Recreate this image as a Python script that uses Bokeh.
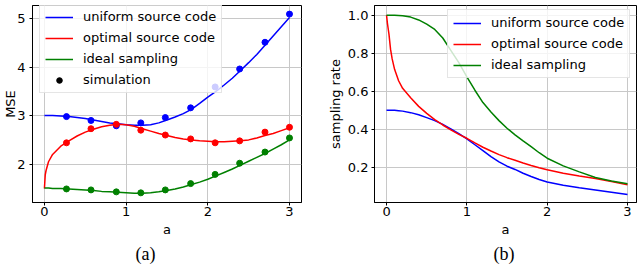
from bokeh.plotting import figure
from bokeh.layouts import row
from bokeh.models import Range1d, FixedTicker, Legend, LegendItem, Title, PrintfTickFormatter
from bokeh.embed import file_html
from bokeh.resources import INLINE

# ---------------- data: panel (a) ----------------
a_curve = [0, 0.01, 0.02, 0.05, 0.1, 0.2, 0.3, 0.4, 0.5, 0.6, 0.7, 0.8, 0.9, 1.0, 1.1, 1.2,
           1.3, 1.4, 1.5, 1.6, 1.7, 1.8, 1.9, 2.0, 2.1, 2.2, 2.3, 2.4, 2.5, 2.6, 2.7, 2.8, 2.9, 3.0]
mse_uniform = [3.00, 3.00, 3.00, 3.00, 3.00, 2.99, 2.98, 2.96, 2.94, 2.91, 2.88, 2.85, 2.83, 2.81,
               2.80, 2.80, 2.81, 2.85, 2.91, 2.97, 3.04, 3.13, 3.25, 3.38, 3.50, 3.63, 3.77, 3.93,
               4.09, 4.26, 4.45, 4.64, 4.83, 5.02]
mse_optimal = [1.50, 1.78, 1.87, 2.05, 2.20, 2.37, 2.48, 2.58, 2.66, 2.72, 2.77, 2.80, 2.82, 2.81,
               2.78, 2.73, 2.68, 2.63, 2.59, 2.55, 2.52, 2.50, 2.48, 2.47, 2.46, 2.46, 2.47, 2.48,
               2.50, 2.54, 2.59, 2.63, 2.69, 2.75]
mse_ideal = [1.51, 1.51, 1.51, 1.51, 1.50, 1.50, 1.49, 1.48, 1.47, 1.46, 1.44, 1.43, 1.42, 1.41,
             1.40, 1.40, 1.41, 1.43, 1.46, 1.49, 1.53, 1.58, 1.63, 1.69, 1.76, 1.83, 1.90, 1.98,
             2.06, 2.14, 2.22, 2.31, 2.40, 2.50]
a_sim = [0.27, 0.57, 0.88, 1.18, 1.48, 1.79, 2.09, 2.39, 2.70, 3.0]
sim_uniform = [2.98, 2.90, 2.79, 2.85, 2.96, 3.16, 3.59, 3.96, 4.51, 5.09]
sim_optimal = [2.44, 2.73, 2.82, 2.70, 2.60, 2.52, 2.44, 2.48, 2.66, 2.76]
sim_ideal = [1.49, 1.47, 1.43, 1.41, 1.47, 1.60, 1.79, 2.02, 2.25, 2.54]

# ---------------- data: panel (b) ----------------
a_rate = [0, 0.01, 0.02, 0.03, 0.05, 0.07, 0.1, 0.15, 0.2, 0.3, 0.4, 0.5, 0.6, 0.7, 0.8, 0.9,
          1.0, 1.1, 1.2, 1.3, 1.4, 1.5, 1.6, 1.7, 1.8, 1.9, 2.0, 2.2, 2.4, 2.6, 2.8, 3.0]
rate_uniform = [0.500, 0.500, 0.500, 0.500, 0.500, 0.500, 0.499, 0.497, 0.495, 0.487, 0.476,
                0.461, 0.445, 0.425, 0.402, 0.377, 0.349, 0.318, 0.287, 0.256, 0.228, 0.205,
                0.188, 0.168, 0.151, 0.135, 0.122, 0.105, 0.092, 0.080, 0.068, 0.056]
rate_optimal = [1.0, 0.96, 0.93, 0.90, 0.82, 0.77, 0.715, 0.655, 0.615, 0.565, 0.52, 0.483,
                0.45, 0.422, 0.396, 0.373, 0.352, 0.328, 0.305, 0.285, 0.266, 0.25, 0.236,
                0.222, 0.209, 0.197, 0.186, 0.168, 0.153, 0.140, 0.124, 0.108]
rate_ideal = [1.0, 1.0, 1.0, 1.0, 1.0, 1.0, 1.0, 0.999, 0.997, 0.99, 0.975, 0.953, 0.925, 0.88,
              0.815, 0.75, 0.675, 0.605, 0.54, 0.49, 0.445, 0.405, 0.37, 0.338, 0.308, 0.276,
              0.247, 0.207, 0.175, 0.146, 0.127, 0.113]

x_ticks = [0, 1, 2, 3]
mse_ticks = [2, 3, 4, 5]
rate_ticks = [0.2, 0.4, 0.6, 0.8, 1.0]
series_names = ["uniform source code", "optimal source code", "ideal sampling"]
colors = ["#0000ff", "#ff0000", "#008000"]

FONT = "DejaVu Sans"


def style(p):
    p.outline_line_color = "black"
    p.outline_line_width = 1
    p.background_fill_color = "white"
    p.border_fill_color = "white"
    for ax in (p.xaxis[0], p.yaxis[0]):
        ax.major_tick_in = 0
        ax.major_tick_out = 3
        ax.minor_tick_line_color = None
        ax.axis_line_color = "black"
        ax.major_tick_line_color = "black"
        ax.major_label_text_font = FONT
        ax.major_label_text_font_size = "13px"
        ax.major_label_text_color = "black"
        ax.axis_label_text_font = FONT
        ax.axis_label_text_font_size = "13px"
        ax.axis_label_text_font_style = "normal"
        ax.axis_label_text_color = "black"
    p.xaxis.major_label_standoff = 1
    p.xaxis.axis_label_standoff = 3
    p.xgrid.grid_line_color = "#c8c8c8"
    p.ygrid.grid_line_color = "#c8c8c8"
    p.xaxis.ticker = FixedTicker(ticks=x_ticks)


def make_legend(items, loc):
    lg = Legend(items=items, location=loc)
    lg.label_text_font = FONT
    lg.label_text_font_size = "13px"
    lg.label_text_color = "black"
    lg.glyph_width = 28
    lg.glyph_height = 14
    lg.label_height = 14
    lg.label_standoff = 10
    lg.spacing = 6
    lg.padding = 5
    lg.margin = 0
    lg.border_line_color = "#cccccc"
    lg.border_line_width = 1
    lg.background_fill_alpha = 0.8
    return lg


def caption(text, offset):
    return Title(text=text, align="left", offset=offset, standoff=4,
                 text_font="Liberation Serif", text_font_size="18px",
                 text_font_style="normal", text_color="black")


# ---------------- panel (a) ----------------
p1 = figure(width=320, height=269, output_backend="svg", toolbar_location=None,
            x_range=Range1d(-0.146, 3.147), y_range=Range1d(1.211, 5.267),
            min_border_left=30, min_border_right=19, min_border_top=0, min_border_bottom=67)
style(p1)
p1.xaxis.axis_label = "a"
p1.yaxis.axis_label = "MSE"
p1.yaxis.major_label_standoff = 4
p1.yaxis.axis_label_standoff = -4
p1.yaxis.ticker = FixedTicker(ticks=mse_ticks)

items1 = []
for name, ys, col in zip(series_names, [mse_uniform, mse_optimal, mse_ideal], colors):
    r = p1.line(a_curve, ys, line_color=col, line_width=1.5)
    items1.append(LegendItem(label=name, renderers=[r]))
for ys, col in zip([sim_uniform, sim_optimal, sim_ideal], colors):
    p1.scatter(a_sim, ys, size=6, fill_color=col, line_color=col)
r_sim = p1.scatter(a_sim, sim_uniform, size=4, fill_color="black", line_color="black",
                   visible=False)
items1.append(LegendItem(label="simulation", renderers=[r_sim]))
p1.add_layout(make_legend(items1, (7, 109)))
p1.add_layout(caption("(a)", 103), "below")

# ---------------- panel (b) ----------------
p2 = figure(width=320, height=269, output_backend="svg", toolbar_location=None,
            x_range=Range1d(-0.15, 3.112), y_range=Range1d(0.014, 1.051),
            min_border_left=54, min_border_right=4, min_border_top=5, min_border_bottom=67)
style(p2)
p2.xaxis.axis_label = "a"
p2.yaxis.axis_label = "sampling rate"
p2.yaxis.major_label_standoff = 3
p2.yaxis.axis_label_standoff = 2
p2.yaxis.ticker = FixedTicker(ticks=rate_ticks)
p2.yaxis.formatter = PrintfTickFormatter(format="%.1f")

items2 = []
for name, ys, col in zip(series_names, [rate_uniform, rate_optimal, rate_ideal], colors):
    r = p2.line(a_rate, ys, line_color=col, line_width=1.5)
    items2.append(LegendItem(label=name, renderers=[r]))
p2.add_layout(make_legend(items2, (73, 124)))
p2.add_layout(caption("(b)", 119), "below")

layout = row(p1, p2, spacing=0)
open("out.html", "w").write(file_html(layout, INLINE))
